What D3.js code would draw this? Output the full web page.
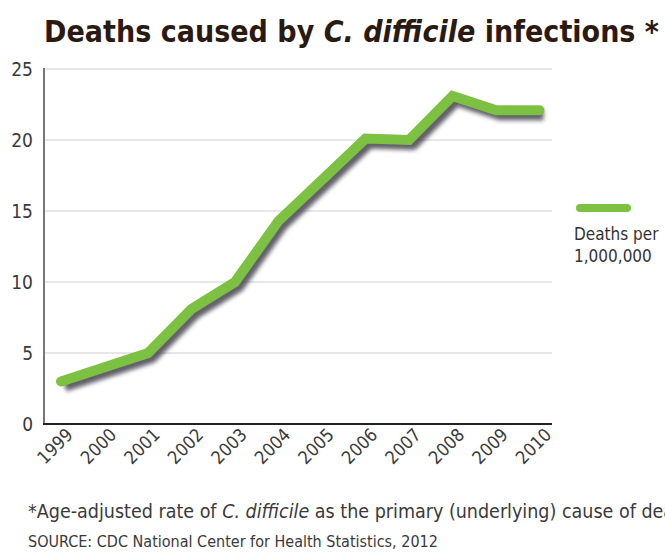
<!DOCTYPE html>
<html>
<head>
<meta charset="utf-8">
<script src="https://cdn.jsdelivr.net/npm/d3@7"></script>
<style>
  body { margin: 0; background: #fff; }
  svg text { font-family: "DejaVu Sans", sans-serif; font-stretch: condensed; }
</style>
</head>
<body>
<div id="chart"></div>
<script>
// Data
var years = ["1999", "2000", "2001", "2002", "2003", "2004", "2005", "2006", "2007", "2008", "2009", "2010"];
var deaths = [3, 4, 5, 8.1, 10, 14.3, 17.2, 20.1, 20, 23.1, 22.1, 22.1];
var yTicks = [0, 5, 10, 15, 20, 25];

const width = 665, height = 556;
const plot = { left: 44, right: 552, top: 69, bottom: 424 };

const svg = d3.select("#chart")
  .append("svg")
  .attr("width", width)
  .attr("height", height);

// shadow blur
svg.append("defs")
  .append("filter")
  .attr("id", "blur")
  .attr("x", "-10%").attr("y", "-10%")
  .attr("width", "120%").attr("height", "120%")
  .append("feGaussianBlur")
  .attr("stdDeviation", 2);

// title
var title = svg.append("text")
  .attr("x", 44)
  .attr("y", 42)
  .attr("font-size", 30)
  .attr("font-weight", "bold")
  .attr("fill", "#2a1a12")
  .attr("textLength", 615)
  .attr("lengthAdjust", "spacingAndGlyphs");
title.append("tspan").text("Deaths caused by ");
title.append("tspan").attr("font-style", "italic").text("C. difficile");
title.append("tspan").text(" infections *");

const x = d3.scalePoint().domain(years).range([61, 539.5]);
const y = d3.scaleLinear().domain([0, 25]).range([plot.bottom, plot.top]);

// gridlines
svg.append("g")
  .selectAll("line")
  .data(yTicks.filter(d => d > 0))
  .join("line")
  .attr("x1", plot.left)
  .attr("x2", plot.right)
  .attr("y1", d => y(d))
  .attr("y2", d => y(d))
  .attr("stroke", "#cfcfcf")
  .attr("stroke-width", 1.2);

// Y axis labels
svg.append("g")
  .selectAll("text")
  .data(yTicks)
  .join("text")
  .attr("x", 33)
  .attr("y", d => y(d) + 7)
  .attr("text-anchor", "end")
  .attr("font-size", 19)
  .attr("fill", "#3a3a3a")
  .text(d => d);

// axis lines
svg.append("line")
  .attr("x1", plot.left).attr("x2", plot.left)
  .attr("y1", plot.top - 1).attr("y2", plot.bottom)
  .attr("stroke", "#777")
  .attr("stroke-width", 2);
svg.append("line")
  .attr("x1", plot.left - 1).attr("x2", plot.right)
  .attr("y1", plot.bottom).attr("y2", plot.bottom)
  .attr("stroke", "#222")
  .attr("stroke-width", 2);

// X labels
svg.append("g")
  .selectAll("text")
  .data(years)
  .join("text")
  .attr("text-anchor", "end")
  .attr("font-size", 18)
  .attr("fill", "#3a3a3a")
  .attr("transform", d => `translate(${x(d) + 13}, ${plot.bottom + 12}) rotate(-45)`)
  .text(d => d);

const line = d3.line()
  .x((d, i) => x(years[i]))
  .y(d => y(d));

// shadow
svg.append("path")
  .datum(deaths)
  .attr("fill", "none")
  .attr("stroke", "#45434f")
  .attr("stroke-width", 10)
  .attr("stroke-linejoin", "round")
  .attr("opacity", 0.85)
  .attr("filter", "url(#blur)")
  .attr("transform", "translate(4, 5)")
  .attr("d", line);

// line
svg.append("path")
  .datum(deaths)
  .attr("fill", "none")
  .attr("stroke", "#7dc142")
  .attr("stroke-width", 10)
  .attr("stroke-linecap", "round")
  .attr("stroke-linejoin", "miter")
  .attr("d", line);

// legend
svg.append("line")
  .attr("x1", 580).attr("x2", 627)
  .attr("y1", 208).attr("y2", 208)
  .attr("stroke", "#7dc142")
  .attr("stroke-width", 8)
  .attr("stroke-linecap", "round");
var legend = svg.append("text")
  .attr("x", 574)
  .attr("font-size", 17)
  .attr("fill", "#333");
legend.append("tspan").attr("x", 574).attr("y", 240).text("Deaths per");
legend.append("tspan").attr("x", 574).attr("y", 262).text("1,000,000");

// footnote (cut at the right edge, as in the original)
var note = svg.append("text")
  .attr("x", 28)
  .attr("y", 518)
  .attr("font-size", 19.5)
  .attr("fill", "#3a3a3a");
note.append("tspan").text("*Age-adjusted rate of ");
note.append("tspan").attr("font-style", "italic").text("C. difficile");
note.append("tspan").text(" as the primary (underlying) cause of death");

svg.append("text")
  .attr("x", 28)
  .attr("y", 547)
  .attr("font-size", 16)
  .attr("fill", "#3a3a3a")
  .text("SOURCE: CDC National Center for Health Statistics, 2012");
</script>
</body>
</html>
